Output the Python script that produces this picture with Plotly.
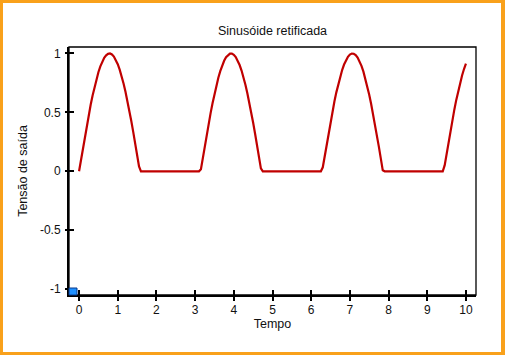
import plotly.graph_objects as go

# Time samples (s); flat stretches only need their ends
tempo = [0.0, 0.05, 0.1, 0.15, 0.2, 0.25, 0.3, 0.35, 0.4, 0.45, 0.5, 0.55, 0.6, 0.65,
         0.7, 0.75, 0.8, 0.85, 0.9, 0.95, 1.0, 1.05, 1.1, 1.15, 1.2, 1.25, 1.3, 1.35,
         1.4, 1.45, 1.5, 1.55, 1.6,
         3.1, 3.15, 3.2, 3.25, 3.3, 3.35, 3.4, 3.45, 3.5, 3.55, 3.6, 3.65, 3.7, 3.75,
         3.8, 3.85, 3.9, 3.95, 4.0, 4.05, 4.1, 4.15, 4.2, 4.25, 4.3, 4.35, 4.4, 4.45,
         4.5, 4.55, 4.6, 4.65, 4.7, 4.75,
         6.25, 6.3, 6.35, 6.4, 6.45, 6.5, 6.55, 6.6, 6.65, 6.7, 6.75, 6.8, 6.85, 6.9,
         6.95, 7.0, 7.05, 7.1, 7.15, 7.2, 7.25, 7.3, 7.35, 7.4, 7.45, 7.5, 7.55, 7.6,
         7.65, 7.7, 7.75, 7.8, 7.85, 7.9,
         9.4, 9.45, 9.5, 9.55, 9.6, 9.65, 9.7, 9.75, 9.8, 9.85, 9.9, 9.95, 10.0]

tensao = [0.0, 0.100, 0.199, 0.296, 0.389, 0.479, 0.565, 0.644, 0.717, 0.783, 0.841, 0.891,
          0.932, 0.964, 0.985, 0.997, 1.0, 0.992, 0.974, 0.946, 0.909, 0.863, 0.808, 0.746,
          0.675, 0.599, 0.516, 0.427, 0.335, 0.239, 0.141, 0.042, 0.0,
          0.0, 0.017, 0.117, 0.215, 0.312, 0.405, 0.494, 0.578, 0.657, 0.729, 0.794, 0.850,
          0.899, 0.938, 0.968, 0.988, 0.999, 0.999, 0.989, 0.970, 0.941, 0.902, 0.855,
          0.799, 0.734, 0.663, 0.585, 0.501, 0.412, 0.319, 0.223, 0.125, 0.025, 0.0,
          0.0, 0.034, 0.133, 0.232, 0.328, 0.420, 0.509, 0.592, 0.670, 0.740, 0.804, 0.859,
          0.906, 0.944, 0.972, 0.991, 0.999, 0.998, 0.987, 0.966, 0.935, 0.895, 0.846,
          0.788, 0.723, 0.650, 0.571, 0.487, 0.397, 0.303, 0.207, 0.108, 0.008, 0.0,
          0.0, 0.050, 0.150, 0.248, 0.343, 0.435, 0.523, 0.606, 0.682, 0.751, 0.813,
          0.868, 0.913]

x_ticks = [0, 1, 2, 3, 4, 5, 6, 7, 8, 9, 10]
y_ticks = [-1, -0.5, 0, 0.5, 1]
y_tick_labels = ["-1", "-0.5", "0", "0.5", "1"]

titulo = "Sinusóide retificada"
x_titulo = "Tempo"
y_titulo = "Tensão de saída"

FONT = "Liberation Sans, Arial, sans-serif"
TXT = "#111111"
xr = [-0.26, 10.26]
yr = [-1.05, 1.055]

fig = go.Figure()
fig.add_trace(go.Scatter(x=tempo, y=tensao, mode="lines",
                         line=dict(color="#C00000", width=2.2),
                         showlegend=False, hoverinfo="skip"))
# invisible twin so the overlay axes (outer half of crossing ticks) are drawn
fig.add_trace(go.Scatter(x=tempo, y=tensao, mode="lines", xaxis="x2", yaxis="y2",
                         line=dict(color="#C00000", width=1), opacity=0,
                         showlegend=False, hoverinfo="skip"))

fig.update_layout(
    width=505, height=355,
    margin=dict(l=69, r=29, t=47, b=60),
    paper_bgcolor="#F9A11B",
    plot_bgcolor="white",
    font=dict(family=FONT, size=12, color=TXT),
    title=dict(text=titulo, x=(69 + 476) / 2 / 505, xanchor="center",
               y=1 - 31 / 355, yanchor="middle",
               font=dict(size=12.5, color=TXT)),
    xaxis=dict(range=xr, tickvals=x_ticks, ticks="inside", ticklen=5, tickwidth=2,
               tickcolor="black", ticklabelstandoff=3,
               showline=True, linecolor="black", linewidth=2,
               showgrid=False, zeroline=False,
               title=dict(text=x_titulo, font=dict(size=12.5), standoff=3)),
    yaxis=dict(range=yr, tickvals=y_ticks, ticktext=y_tick_labels, ticks="inside",
               ticklen=5, tickwidth=2, tickcolor="black", ticklabelstandoff=4,
               showline=True, linecolor="black", linewidth=2,
               showgrid=False, zeroline=False,
               title=dict(text=y_titulo, font=dict(size=12.5), standoff=10)),
    xaxis2=dict(range=xr, overlaying="x", anchor="y2", tickvals=x_ticks, ticks="outside",
                ticklen=5, tickwidth=2, tickcolor="black", showticklabels=False,
                showline=False, side="bottom", showgrid=False, zeroline=False),
    yaxis2=dict(range=yr, overlaying="y", anchor="x2", tickvals=y_ticks, ticks="outside",
                ticklen=3, tickwidth=2, tickcolor="black", showticklabels=False,
                showline=False, side="left", showgrid=False, zeroline=False),
    shapes=[
        # white page inside the orange border
        dict(type="rect", xref="paper", yref="paper", layer="below",
             x0=-66 / 407, x1=1 + 25 / 407, y0=-57 / 248, y1=1 + 44 / 248,
             fillcolor="white", line=dict(width=0)),
        # thin frame on top/right
        dict(type="rect", xref="paper", yref="paper", layer="above",
             x0=0, x1=1, y0=0, y1=1, line=dict(color="black", width=1.3)),
        # small blue square at the axes corner
        dict(type="rect", xref="paper", yref="paper", layer="above",
             x0=0, x1=8 / 407, y0=0, y1=7 / 248,
             fillcolor="#1E90FF", line=dict(color="#0A3A8C", width=1)),
    ],
)

fig.write_html("out.html", config={"displayModeBar": False},
               post_script="document.body.style.margin='0';")
